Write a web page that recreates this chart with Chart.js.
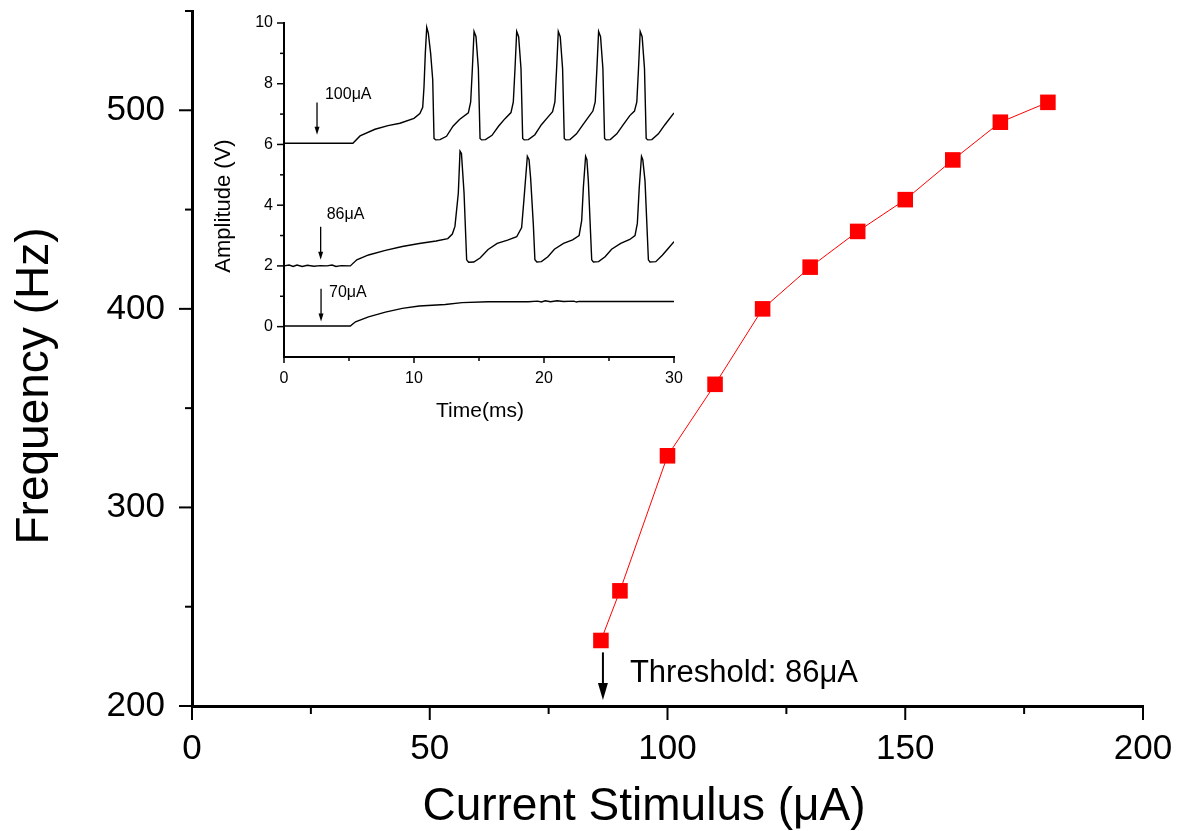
<!DOCTYPE html>
<html>
<head>
<meta charset="utf-8">
<script src="https://cdn.jsdelivr.net/npm/chart.js@4.4.1/dist/chart.umd.min.js"></script>
<style>
    html, body { margin: 0; padding: 0; background: #fff; }
    #wrap { position: relative; width: 1190px; height: 831px; }
    #main { position: absolute; left: 0; top: 0; }
    #inset { position: absolute; left: 190px; top: 0; }
</style>
</head>
<body>
<div id="wrap">
    <canvas id="main" width="1190" height="831"></canvas>
    <canvas id="inset" width="500" height="430"></canvas>
</div>
<script>
// main plot: firing frequency vs stimulus current
const currentUA = [86, 90, 100, 110, 120, 130, 140, 150, 160, 170, 180];
const freqHz = [233, 258, 326, 362, 400, 421, 439, 455, 475, 494, 504];
const thresholdUA = 86;

// inset traces (time in ms, amplitude in V)
const t100 = [0, 5.3, 5.85, 7.0, 8.0, 8.92, 10.0,
    10.45, 10.67, 10.77, 10.87, 10.98, 11.1, 11.28, 11.44, 11.54, 11.67,
    12.0, 12.5, 13.0, 13.5,
    14.18, 14.36, 14.49, 14.62, 14.77, 14.95, 15.08, 15.2,
    15.5, 16.0, 16.5, 17.0,
    17.46, 17.64, 17.77, 17.9, 18.05, 18.23, 18.36, 18.48,
    18.8, 19.3, 19.8, 20.3,
    20.66, 20.84, 20.97, 21.1, 21.25, 21.43, 21.56, 21.68,
    22.0, 22.5, 23.0, 23.5,
    23.76, 23.94, 24.07, 24.2, 24.35, 24.53, 24.66, 24.78,
    25.1, 25.6, 26.1, 26.6,
    26.96, 27.14, 27.27, 27.4, 27.55, 27.73, 27.86, 27.98,
    28.3, 28.8, 29.3, 30];
const v100 = [6.04, 6.04, 6.28, 6.5, 6.62, 6.7, 6.86,
    7.02, 7.22, 7.9, 9.0, 9.86, 9.67, 9.0, 8.13, 6.2, 6.15,
    6.16, 6.27, 6.6, 6.82,
    7.04, 7.4, 8.5, 9.72, 9.55, 8.5, 6.2, 6.15,
    6.16, 6.3, 6.6, 6.85,
    7.05, 7.4, 8.5, 9.72, 9.55, 8.5, 6.2, 6.15,
    6.16, 6.32, 6.65, 6.9,
    7.08, 7.4, 8.5, 9.72, 9.55, 8.5, 6.2, 6.15,
    6.16, 6.35, 6.65, 6.95,
    7.1, 7.4, 8.5, 9.72, 9.55, 8.5, 6.2, 6.15,
    6.16, 6.35, 6.65, 6.95,
    7.1, 7.4, 8.5, 9.72, 9.55, 8.5, 6.2, 6.15,
    6.16, 6.35, 6.65, 7.04];

const t86 = [0, 0.4, 0.7, 1.0, 1.4, 1.8, 2.3, 2.8, 3.3, 3.7, 4.0, 4.4, 5.1,
    5.6, 6.5, 7.8, 9.1, 10.4, 11.7, 12.6, 12.95, 13.15,
    13.41, 13.54, 13.65, 13.85, 14.05, 14.2,
    14.6, 15.1, 15.7, 16.4, 17.2, 17.9, 18.28,
    18.46, 18.72, 18.85, 18.97, 19.18, 19.3, 19.45,
    19.8, 20.3, 20.8, 21.5, 22.2, 22.7, 22.9,
    23.03, 23.2, 23.3, 23.41, 23.67, 23.8,
    24.2, 24.7, 25.2, 25.9, 26.6, 27.0, 27.18,
    27.33, 27.5, 27.6, 27.77, 28.03, 28.15,
    28.6, 29.1, 29.5, 30];
const v86 = [2.0, 2.03, 1.98, 2.03, 1.98, 2.02, 1.99, 2.01, 2.0, 2.03, 1.98, 2.01, 2.0,
    2.2, 2.36, 2.51, 2.64, 2.74, 2.82, 2.9, 3.05, 3.3,
    4.4, 5.78, 5.7, 4.4, 2.2, 2.12,
    2.13, 2.27, 2.54, 2.74, 2.85, 2.96, 3.26,
    4.2, 5.61, 5.5, 4.9, 3.36, 2.2, 2.13,
    2.14, 2.3, 2.55, 2.74, 2.86, 3.0, 3.5,
    4.6, 5.61, 5.5, 4.8, 2.2, 2.13,
    2.14, 2.3, 2.55, 2.74, 2.87, 3.0, 3.4,
    4.6, 5.61, 5.5, 4.8, 2.2, 2.13,
    2.14, 2.35, 2.55, 2.8];

const t70 = [0, 5.1, 5.5, 6.5, 7.8, 9.1, 10.4, 12.4, 13.7, 15.7, 18.8,
    19.5, 19.8, 20.1, 20.5, 21.0, 21.5, 22.3, 22.5, 22.7, 30];
const v70 = [0.02, 0.02, 0.16, 0.32, 0.48, 0.6, 0.68, 0.73, 0.79, 0.82, 0.82,
    0.84, 0.81, 0.85, 0.82, 0.85, 0.83, 0.84, 0.81, 0.83, 0.83];

// where the current labels and arrows sit in the inset: [label, arrow t, arrow top V, arrow tip V, text t, text V]
const traceLabels = [
    ['100\u03bcA', 2.54, 7.38, 6.32, 3.15, 7.64],
    ['86\u03bcA', 2.82, 3.29, 2.2, 3.28, 3.69],
    ['70\u03bcA', 2.85, 1.25, 0.17, 3.46, 1.12]
];

const FONT = '"Liberation Sans", Arial, Helvetica, sans-serif';

function toPoints(xs, ys) {
    return xs.map((x, i) => ({ x: x, y: ys[i] }));
}

function line(ctx, x0, y0, x1, y1) {
    ctx.beginPath();
    ctx.moveTo(x0, y0);
    ctx.lineTo(x1, y1);
    ctx.stroke();
}

function downArrow(ctx, x, yTop, yTip, headLen, headHalf, width) {
    ctx.lineWidth = width;
    line(ctx, x, yTop, x, yTip - headLen + 1);
    ctx.beginPath();
    ctx.moveTo(x - headHalf, yTip - headLen);
    ctx.lineTo(x + headHalf, yTip - headLen);
    ctx.lineTo(x, yTip);
    ctx.closePath();
    ctx.fill();
}

// fixed axis sizes, no extra room for label overhang
function fixX(height) {
    return s => { s.height = height; s.paddingLeft = 0; s.paddingRight = 0; };
}
function fixY(width) {
    return s => { s.width = width; s.paddingTop = 0; s.paddingBottom = 0; };
}

function drawTicks(chart, xMajor, yMajor, len) {
    const { ctx, chartArea: a } = chart;
    const xs = chart.scales.x, ys = chart.scales.y;
    ctx.save();
    ctx.strokeStyle = '#000';
    ctx.lineWidth = len.width;
    xs.ticks.forEach(t => {
        const px = xs.getPixelForValue(t.value);
        const l = t.value % xMajor === 0 ? len.xMajor : len.xMinor;
        line(ctx, px, a.bottom, px, a.bottom + l);
    });
    ys.ticks.forEach(t => {
        if (t.value < ys.min + 1e-9 && len.skipFirstY) return;
        const py = ys.getPixelForValue(t.value);
        const l = t.value % yMajor === 0 ? len.yMajor : len.yMinor;
        line(ctx, a.left - l, py, a.left, py);
    });
    ctx.restore();
}

const mainDecor = {
    id: 'mainDecor',
    afterDraw(chart) {
        const ctx = chart.ctx;
        const x = chart.scales.x, y = chart.scales.y;
        drawTicks(chart, 50, 100, { width: 2, xMajor: 14, xMinor: 8, yMajor: 13, yMinor: 7 });

        ctx.save();
        ctx.fillStyle = '#000';
        ctx.strokeStyle = '#000';
        ctx.font = '46px ' + FONT;
        ctx.textAlign = 'center';
        ctx.textBaseline = 'alphabetic';
        ctx.fillText('Current Stimulus (\u03bcA)', 644, 820);
        ctx.save();
        ctx.translate(48, 386);
        ctx.rotate(-Math.PI / 2);
        ctx.fillText('Frequency (Hz)', 0, 0);
        ctx.restore();

        // threshold marker
        const ax = x.getPixelForValue(thresholdUA) + 2;
        downArrow(ctx, ax, y.getPixelForValue(227), y.getPixelForValue(203), 17, 5, 2);
        ctx.font = '31px ' + FONT;
        ctx.textAlign = 'left';
        ctx.fillText('Threshold: ' + thresholdUA + '\u03bcA', x.getPixelForValue(92.1), y.getPixelForValue(212));
        ctx.restore();
    }
};

const insetDecor = {
    id: 'insetDecor',
    afterDraw(chart) {
        const ctx = chart.ctx;
        const x = chart.scales.x, y = chart.scales.y;
        drawTicks(chart, 10, 2, { width: 1.5, xMajor: 6, xMinor: 4, yMajor: 7, yMinor: 4, skipFirstY: true });

        ctx.save();
        ctx.fillStyle = '#000';
        ctx.strokeStyle = '#000';
        ctx.textBaseline = 'alphabetic';
        ctx.textAlign = 'center';
        ctx.font = '21px ' + FONT;
        ctx.fillText('Time(ms)', 290, 417);
        ctx.save();
        ctx.translate(40, 206);
        ctx.rotate(-Math.PI / 2);
        ctx.font = '22px ' + FONT;
        ctx.fillText('Amplitude (V)', 0, 0);
        ctx.restore();

        ctx.font = '16px ' + FONT;
        ctx.textAlign = 'left';
        ctx.textBaseline = 'middle';
        traceLabels.forEach(l => {
            const px = x.getPixelForValue(l[1]);
            downArrow(ctx, px, y.getPixelForValue(l[2]), y.getPixelForValue(l[3]), 8, 2.5, 1.3);
            ctx.fillText(l[0], x.getPixelForValue(l[4]), y.getPixelForValue(l[5]));
        });
        ctx.restore();
    }
};

new Chart(document.getElementById('main'), {
    type: 'line',
    data: {
        datasets: [{
            data: toPoints(currentUA, freqHz),
            borderColor: '#ff0000',
            borderWidth: 1,
            backgroundColor: '#ff0000',
            pointStyle: 'rect',
            pointRadius: 11,
            pointBorderWidth: 0,
            pointBackgroundColor: '#ff0000',
            tension: 0
        }]
    },
    options: {
        responsive: false,
        animation: false,
        events: [],
        layout: { padding: { left: 0, top: 8, right: 47, bottom: 0 } },
        plugins: { legend: { display: false }, tooltip: { enabled: false } },
        scales: {
            x: {
                type: 'linear',
                min: 0,
                max: 200,
                afterFit: fixX(125),
                grid: { display: false, drawTicks: false },
                border: { display: true, width: 3, color: '#000' },
                ticks: {
                    stepSize: 25,
                    autoSkip: false,
                    maxRotation: 0,
                    padding: 22,
                    color: '#000',
                    font: { family: FONT, size: 35 },
                    callback: v => v % 50 === 0 ? String(v) : ''
                }
            },
            y: {
                type: 'linear',
                min: 200,
                max: 550,
                afterFit: fixY(192),
                grid: { display: false, drawTicks: false },
                border: { display: true, width: 3, color: '#000' },
                ticks: {
                    stepSize: 50,
                    autoSkip: false,
                    padding: 27,
                    color: '#000',
                    font: { family: FONT, size: 35 },
                    callback: v => v % 100 === 0 ? String(v) : ''
                }
            }
        }
    },
    plugins: [mainDecor]
});

new Chart(document.getElementById('inset'), {
    type: 'line',
    data: {
        datasets: [
            { data: toPoints(t100, v100) },
            { data: toPoints(t86, v86) },
            { data: toPoints(t70, v70) }
        ].map(d => Object.assign(d, {
            borderColor: '#000',
            borderWidth: 1.4,
            pointRadius: 0,
            tension: 0,
            fill: false
        }))
    },
    options: {
        responsive: false,
        animation: false,
        events: [],
        layout: { padding: { left: 0, top: 23, right: 16, bottom: 0 } },
        plugins: { legend: { display: false }, tooltip: { enabled: false } },
        scales: {
            x: {
                type: 'linear',
                min: 0,
                max: 30,
                afterFit: fixX(73),
                grid: { display: false, drawTicks: false },
                border: { display: true, width: 2, color: '#000' },
                ticks: {
                    stepSize: 5,
                    autoSkip: false,
                    maxRotation: 0,
                    padding: 12,
                    color: '#000',
                    font: { family: FONT, size: 16 },
                    callback: v => v % 10 === 0 ? String(v) : ''
                }
            },
            y: {
                type: 'linear',
                min: -1,
                max: 10,
                afterFit: fixY(94),
                grid: { display: false, drawTicks: false },
                border: { display: true, width: 2, color: '#000' },
                ticks: {
                    stepSize: 1,
                    autoSkip: false,
                    padding: 11,
                    color: '#000',
                    font: { family: FONT, size: 16 },
                    callback: v => (v >= 0 && v % 2 === 0) ? String(v) : ''
                }
            }
        }
    },
    plugins: [insetDecor]
});
</script>
</body>
</html>
